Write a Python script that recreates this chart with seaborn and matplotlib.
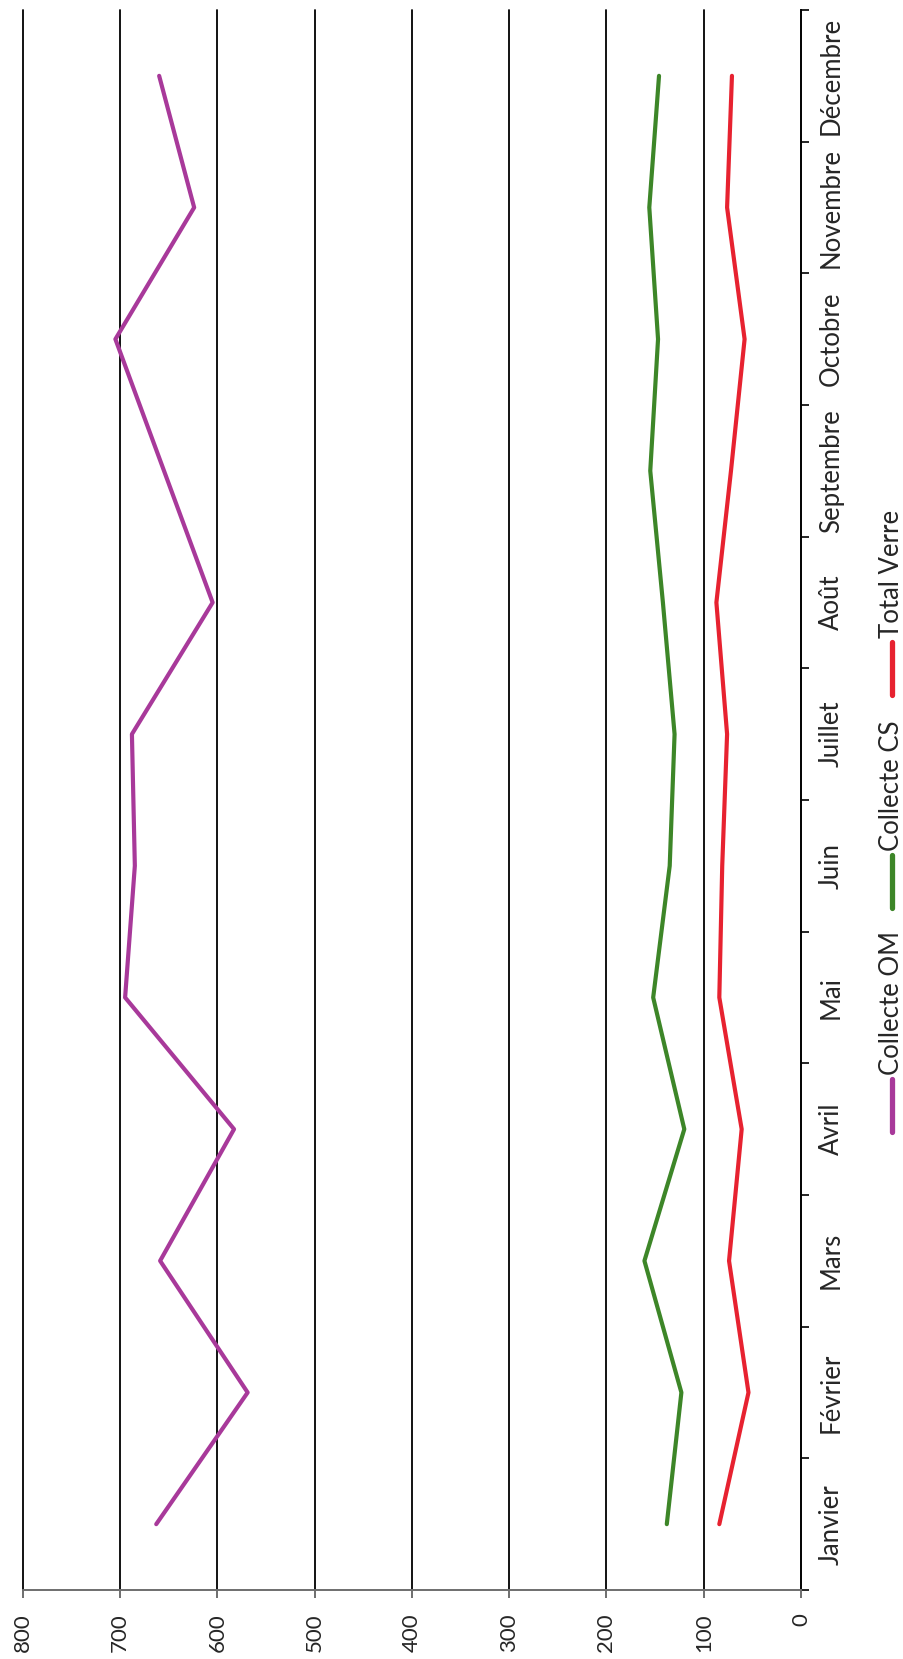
import pandas as pd
import matplotlib.pyplot as plt
import seaborn as sns
from matplotlib.lines import Line2D
from matplotlib.transforms import blended_transform_factory

# Monthly tonnage
months = ["Janvier", "Février", "Mars", "Avril", "Mai", "Juin",
          "Juillet", "Août", "Septembre", "Octobre", "Novembre", "Décembre"]
collecte_om = [663, 569, 659, 583, 695, 685, 688, 605, 655, 705, 624, 660]
collecte_cs = [138, 123, 161, 120, 152, 135, 130, 142, 155, 147, 156, 146]
total_verre = [84, 54, 74, 61, 84, 81, 76, 87, 72, 58, 76, 71]
value_ticks = [0, 100, 200, 300, 400, 500, 600, 700, 800]

series_names = ["Collecte OM", "Collecte CS", "Total Verre"]
colors = {"Collecte OM": "#a8399a", "Collecte CS": "#3d8628", "Total Verre": "#e72230"}

W, H = 904, 1659


def build_frame():
    """Long-form table: one row per month and series."""
    rows = []
    for name, vals in zip(series_names, [collecte_om, collecte_cs, total_verre]):
        for i, v in enumerate(vals):
            rows.append({"pos": i, "month": months[i], "value": v, "serie": name})
    return pd.DataFrame(rows)


def main():
    sns.set_style("white")
    plt.rcParams['font.family'] = ['Lato', 'DejaVu Sans']

    data = build_frame()

    fig = plt.figure(figsize=(W / 100, H / 100), dpi=100)
    ax = fig.add_axes([23 / W, 1 - 1590 / H, (801 - 23) / W, (1590 - 10) / H])

    # the chart is printed rotated: values run along x (800 left -> 0 right),
    # months run bottom -> top
    sns.lineplot(data=data, x="value", y="pos", hue="serie", palette=colors,
                 orient="y", sort=False, estimator=None, lw=3.0, legend=False, ax=ax)

    ax.set_xlim(800, 0)
    ax.set_ylim(-0.5, len(months) - 0.5)

    # value axis (bottom)
    ax.set_xticks(value_ticks)
    ax.set_xticklabels([str(v) for v in value_ticks], rotation=90, fontsize=16)
    ax.tick_params(axis="x", direction="out", length=6, width=1.2, color="#555555",
                   pad=11, bottom=True)
    for v in value_ticks[1:]:
        ax.axvline(v, color="black", lw=1.3, zorder=0, clip_on=False)

    # month axis (right)
    ax.yaxis.tick_right()
    ax.set_yticks([i - 0.5 for i in range(len(months) + 1)])
    ax.set_yticklabels([])
    ax.set_yticks(range(len(months)), minor=True)
    ax.set_yticklabels(months, minor=True, rotation=90, va="center", fontsize=18.5)
    ax.tick_params(axis="y", which="major", direction="out", length=6, width=1.2,
                   color="black", right=True, left=False)
    ax.tick_params(axis="y", which="minor", length=0, pad=13, right=True, left=False)

    ax.set_xlabel("")
    ax.set_ylabel("")
    ax.grid(False)
    for side in ["top", "left"]:
        ax.spines[side].set_visible(False)
    ax.spines["right"].set_color("black")
    ax.spines["right"].set_linewidth(1.4)
    ax.spines["bottom"].set_color("#6e6e6e")
    ax.spines["bottom"].set_linewidth(1.4)

    # rotated legend, drawn by hand under the month labels
    # (x in figure fraction, y in month units so it follows the axis)
    trans = blended_transform_factory(fig.transFigure, ax.transData)
    lx = 892 / W
    legend_spots = {"Collecte OM": 2.98, "Collecte CS": 4.68, "Total Verre": 6.30}
    handle_len = 0.40
    for name in series_names:
        y0 = legend_spots[name]
        fig.add_artist(Line2D([lx, lx], [y0, y0 + handle_len], transform=trans,
                              color=colors[name], lw=3.8, solid_capstyle="round"))
        fig.text(lx, y0 + handle_len + 0.03, name, transform=trans, rotation=90,
                 ha="center", va="bottom", fontsize=18.5)

    fig.savefig("out.png", dpi=100)


if __name__ == "__main__":
    main()
